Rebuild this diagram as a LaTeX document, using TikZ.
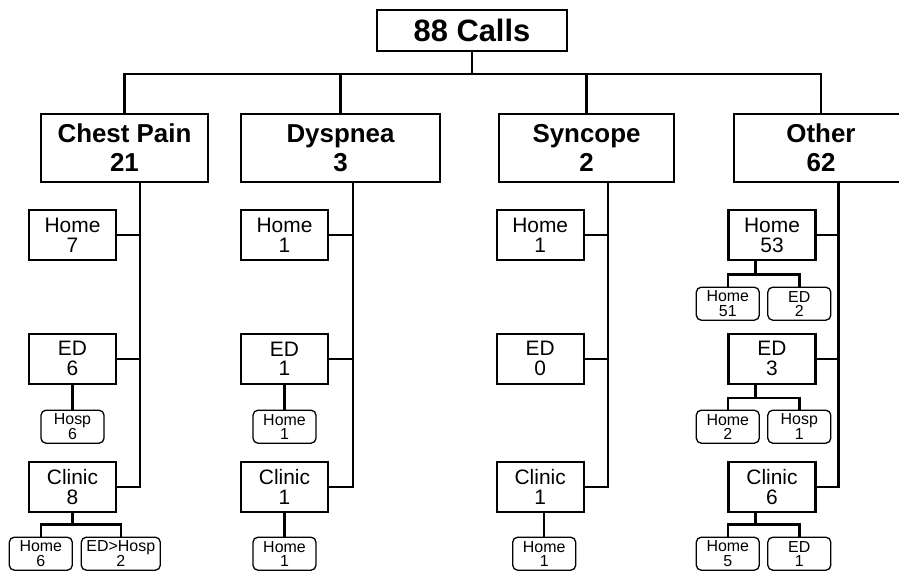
\documentclass[tikz,border=0pt]{standalone}
\usepackage{fontspec}
\setmainfont{Liberation Sans}
\tikzset{
  callbox/.style={draw, line width=2.2bp, minimum width=190bp, minimum height=41bp,
    inner sep=0pt, font=\fontsize{31}{33}\selectfont\bfseries},
  catbox/.style={draw, line width=2.2bp, minimum height=68bp, inner sep=0pt,
    align=center, font=\fontsize{26}{29}\selectfont\bfseries},
  dispbox/.style={draw, line width=2.2bp, minimum width=87bp, minimum height=50bp,
    inner sep=0pt, align=center, font=\fontsize{21}{20}\selectfont},
  outbox/.style={draw, line width=1.3bp, rounded corners=5bp, minimum width=63bp,
    minimum height=33bp, inner sep=0pt, align=center, font=\fontsize{16}{14.3}\selectfont},
  link/.style={line width=2.4bp},
}
\begin{document}
\begin{tikzpicture}[x=1bp,y=-1bp]
      \clip (0,0) rectangle (899,572);
      \draw
        (472,30.5) node[callbox] (calls){88 Calls}
        (124.5,148) node[catbox,minimum width=167bp] (cp){Chest Pain\\21}
        (340.5,148) node[catbox,minimum width=199bp] (dy){Dyspnea\\3}
        (586.5,148) node[catbox,minimum width=175bp] (sy){Syncope\\2}
        (821,148) node[catbox,minimum width=174bp] (ot){Other\\62};
      \draw
        (72.5,235.3) node[dispbox] (cphome){Home\\7}
        (72.5,358.8) node[dispbox] (cped){ED\\6}
        (72.5,486.8) node[dispbox] (cpclinic){Clinic\\8}
        (72.5,426.7) node[outbox] (cpedhosp){Hosp\\6}
        (40.8,553.7) node[outbox] (cpclhome){Home\\6}
        (120.8,553.7) node[outbox,minimum width=79bp] (cpclhosp){ED>Hosp\\2};
      \draw
        (284.5,235.3) node[dispbox] (dyhome){Home\\1}
        (284.5,358.8) node[dispbox] (dyed){ED\\1}
        (284.5,486.8) node[dispbox] (dyclinic){Clinic\\1}
        (284.5,426.7) node[outbox] (dyedhome){Home\\1}
        (284.5,553.7) node[outbox] (dyclhome){Home\\1};
      \draw
        (540.2,235.3) node[dispbox] (syhome){Home\\1}
        (540.2,358.8) node[dispbox] (syed){ED\\0}
        (540.2,486.8) node[dispbox] (syclinic){Clinic\\1}
        (544.2,553.7) node[outbox] (syclhome){Home\\1};
      \draw
        (772,235.3) node[dispbox] (othome){Home\\53}
        (772,358.8) node[dispbox] (oted){ED\\3}
        (772,486.8) node[dispbox] (otclinic){Clinic\\6}
        (727.8,303.7) node[outbox] (othmhome){Home\\51}
        (799.3,303.7) node[outbox] (othmed){ED\\2}
        (727.8,426.7) node[outbox] (otedhome){Home\\2}
        (799.3,426.7) node[outbox] (otedhosp){Hosp\\1}
        (727.8,553.7) node[outbox] (otclhome){Home\\5}
        (799.3,553.7) node[outbox] (otcled){ED\\1};
      \coordinate (bus) at (472,74);
      \coordinate (cpspine) at (140,486.8);
      \coordinate (dyspine) at (352.7,486.8);
      \coordinate (syspine) at (607.7,486.8);
      \coordinate (otspine) at (838.5,486.8);
      \coordinate (cpclj) at (72.5,524.3);
      \coordinate (othmj) at (755.5,274.3);
      \coordinate (otedj) at (755.5,397.7);
      \coordinate (otclj) at (755.5,524.3);
      \begin{scope}[link]
        \draw (calls) to (bus);
        \draw (cp) |- (bus) -| (ot);
        \draw (dy) |- (bus);
        \draw (sy) |- (bus);
        \draw (cp.south -| cpspine) -- (cpspine) -- (cpclinic);
        \draw (cphome) to (cphome -| cpspine);
        \draw (cped) to (cped -| cpspine);
        \draw (cped) to (cpedhosp);
        \draw (cpclinic) to (cpclj);
        \draw (cpclhome) |- (cpclj) -| (cpclhosp);
        \draw (dy.south -| dyspine) -- (dyspine) -- (dyclinic);
        \draw (dyhome) to (dyhome -| dyspine);
        \draw (dyed) to (dyed -| dyspine);
        \draw (dyed) to (dyedhome);
        \draw (dyclinic) to (dyclhome);
        \draw (sy.south -| syspine) -- (syspine) -- (syclinic);
        \draw (syhome) to (syhome -| syspine);
        \draw (syed) to (syed -| syspine);
        \draw (syclhome) to (syclhome |- syclinic.south);
        \draw (ot.south -| otspine) -- (otspine) -- (otclinic);
        \draw (othome) to (othome -| otspine);
        \draw (oted) to (oted -| otspine);
        \draw (othome.south -| othmj) to (othmj);
        \draw (othmhome) |- (othmj) -| (othmed);
        \draw (oted.south -| otedj) to (otedj);
        \draw (otedhome) |- (otedj) -| (otedhosp);
        \draw (otclinic.south -| otclj) to (otclj);
        \draw (otclhome) |- (otclj) -| (otcled);
      \end{scope}
    \end{tikzpicture}
\end{document}
